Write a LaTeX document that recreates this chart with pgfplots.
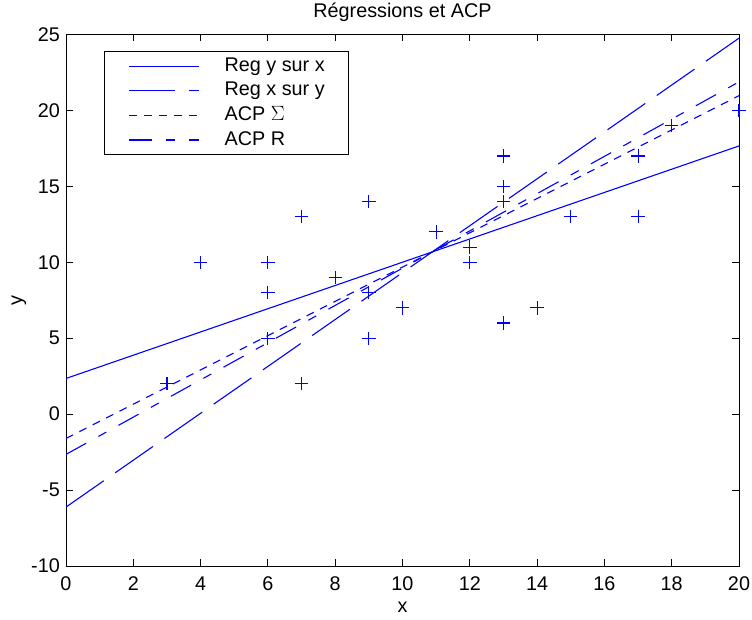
\documentclass[border=0pt]{standalone}
\usepackage{fontspec}
\setmainfont{Liberation Sans}
\usepackage{pgfplots}
\pgfplotsset{compat=1.18}
\definecolor{mblue}{RGB}{0,0,255}
\begin{document}
\fontsize{19.8bp}{23bp}\selectfont
\begin{tikzpicture}
\tikzset{every node/.append style={font=\fontsize{19.8bp}{23bp}\selectfont}}
\begin{axis}[
  scale only axis, width=673bp, height=531.5bp,
  xmin=0, xmax=20, ymin=-10, ymax=25,
  xtick={0,2,...,20}, ytick={-10,-5,...,25},
  tick align=inside, major tick length=7bp,
  axis line style={line width=1bp},
  every tick/.style={draw=black, line width=1bp},
  /pgf/number format/assume math mode=true,
  xticklabel style={anchor=base, inner sep=0pt, yshift=-24bp},
  yticklabel style={anchor=east, inner sep=0pt, xshift=-6bp},
  title={Régressions et ACP},
  title style={at={(0.5,1.0216)}, anchor=base, inner sep=0pt},
  xlabel={x},
  xlabel style={at={(0.5,-0.0884)}, anchor=base, inner sep=0pt},
  ylabel={y},
  ylabel style={at={(-0.0700,0.5)}, anchor=center, inner sep=0pt, rotate=0},
  legend image code/.code={\draw[#1, line width=1.1bp] (0bp,0bp) -- (70bp,0bp);},
  legend style={at={(0.0565,0.969)}, anchor=north west, draw=black,
    line width=1bp, fill=white, inner xsep=24bp, inner ysep=6.5bp,
    row sep=7.8bp, column sep=25bp,
    nodes={inner sep=0pt, anchor=west}},
  legend cell align=left,
]
\addplot[only marks, mark=+, mark size=6.7bp, mblue,
  mark options={solid, line width=1.1bp}, forget plot] coordinates {
(3,2) (4,10) (6,10) (6,8) (6,5) (7,13) (7,2) (8,9) (9,14) (9,8) (9,5)
(10,7) (11,12) (12,11) (12,10) (13,17) (13,15) (13,14) (13,6) (14,7)
(15,13) (17,17) (17,13) (18,19) (20,20)};
\addplot[mblue, line width=1.1bp] coordinates {(0,2.35) (20,17.66)};
\addlegendentry{Reg y sur x}
\addplot[mblue, line width=1.1bp, dash pattern=on 46bp off 14bp] coordinates {(0,-6.12) (20,24.76)};
\addlegendentry{Reg x sur y}
\addplot[mblue, line width=1.1bp, dash pattern=on 8bp off 7bp] coordinates {(0,-1.60) (20,20.97)};
\addlegendentry{ACP $\Sigma$}
\addplot[mblue, line width=1.1bp, dash pattern=on 23bp off 14bp on 9bp off 14bp] coordinates {(0,-2.65) (20,21.88)};
\addlegendentry{ACP R}
\end{axis}
\pgfresetboundingbox
\path[use as bounding box] ([xshift=-66bp,yshift=-54bp]current axis.south west) rectangle ([xshift=13bp,yshift=34.5bp]current axis.north east);
\end{tikzpicture}
\end{document}
